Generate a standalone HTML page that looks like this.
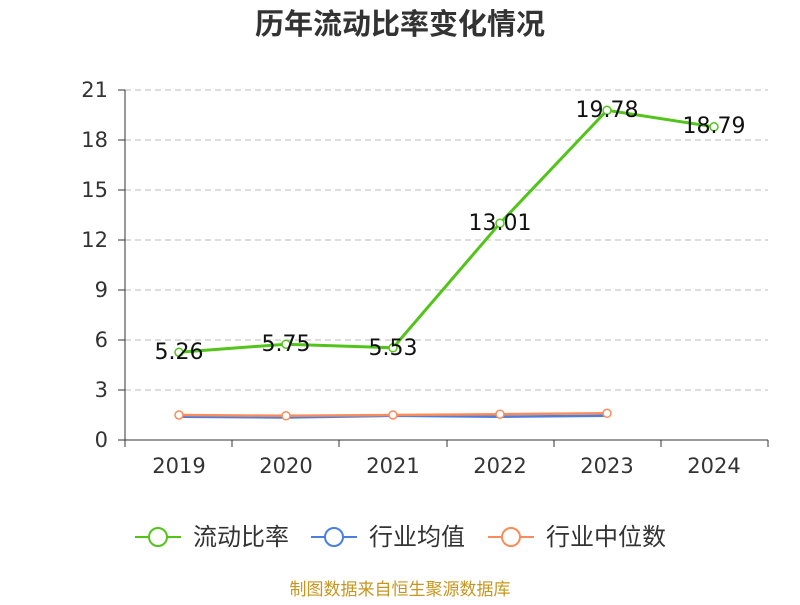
<!DOCTYPE html>
<html><head><meta charset="utf-8"><style>
body{margin:0;background:#fff;}
svg text{font-family:"DejaVu Sans","Noto Sans CJK SC",sans-serif;}
.cjk{font-family:"Liberation Sans","Noto Sans CJK SC",sans-serif;}
</style></head><body>
<svg width="800" height="600" xmlns="http://www.w3.org/2000/svg">
<text class="cjk" x="400" y="34" text-anchor="middle" font-size="29" font-weight="bold" fill="#333">历年流动比率变化情况</text>
<g stroke="#bbb" stroke-dasharray="6,4" stroke-width="1">
<line x1="125" y1="90" x2="768" y2="90"/><line x1="125" y1="140" x2="768" y2="140"/>
<line x1="125" y1="190" x2="768" y2="190"/><line x1="125" y1="240" x2="768" y2="240"/>
<line x1="125" y1="290" x2="768" y2="290"/><line x1="125" y1="340" x2="768" y2="340"/>
<line x1="125" y1="390" x2="768" y2="390"/>
</g>
<g stroke="#333" stroke-width="1">
<line x1="125" y1="90" x2="125" y2="440"/><line x1="125" y1="440" x2="768" y2="440"/>
<line x1="118" y1="90" x2="125" y2="90"/><line x1="118" y1="140" x2="125" y2="140"/><line x1="118" y1="190" x2="125" y2="190"/><line x1="118" y1="240" x2="125" y2="240"/><line x1="118" y1="290" x2="125" y2="290"/><line x1="118" y1="340" x2="125" y2="340"/><line x1="118" y1="390" x2="125" y2="390"/><line x1="118" y1="440" x2="125" y2="440"/>
<line x1="125" y1="440" x2="125" y2="447"/><line x1="232" y1="440" x2="232" y2="447"/><line x1="339" y1="440" x2="339" y2="447"/><line x1="447" y1="440" x2="447" y2="447"/><line x1="554" y1="440" x2="554" y2="447"/><line x1="661" y1="440" x2="661" y2="447"/><line x1="768" y1="440" x2="768" y2="447"/>
</g>
<g font-size="21" fill="#333" text-anchor="end">
<text x="108" y="97">21</text><text x="108" y="147">18</text><text x="108" y="197">15</text><text x="108" y="247">12</text><text x="108" y="297">9</text><text x="108" y="347">6</text><text x="108" y="397">3</text><text x="108" y="447">0</text>
</g>
<g font-size="21" fill="#333" text-anchor="middle">
<text x="179" y="473">2019</text><text x="286" y="473">2020</text><text x="393" y="473">2021</text><text x="500" y="473">2022</text><text x="607" y="473">2023</text><text x="714" y="473">2024</text>
</g>
<polyline fill="none" stroke="#4a7fe0" stroke-width="2.5" points="179,416.7 286,417.5 393,415.8 500,416.7 607,415.8"/>
<polyline fill="none" stroke="#f98c5a" stroke-width="2.5" points="179,415 286,415.8 393,415 500,414.2 607,413.3"/>
<g fill="#fff" stroke="#f98c5a" stroke-width="1.5">
<circle cx="179" cy="415" r="4"/><circle cx="286" cy="415.8" r="4"/><circle cx="393" cy="415" r="4"/><circle cx="500" cy="414.2" r="4"/><circle cx="607" cy="413.3" r="4"/>
</g>
<polyline fill="none" stroke="#52c41a" stroke-width="3" points="179,352.3 286,344.2 393,347.8 500,223.2 607,110.3 714,126.8"/>
<g fill="#fff" stroke="#52c41a" stroke-width="1.5">
<circle cx="179" cy="352.3" r="4"/><circle cx="286" cy="344.2" r="4"/><circle cx="393" cy="347.8" r="4"/><circle cx="500" cy="223.2" r="4"/><circle cx="607" cy="110.3" r="4"/><circle cx="714" cy="126.8" r="4"/>
</g>
<g font-size="22" fill="#111" text-anchor="middle">
<text x="179" y="359">5.26</text><text x="286" y="351">5.75</text><text x="393" y="355">5.53</text><text x="500" y="230">13.01</text><text x="607" y="117">19.78</text><text x="714" y="133">18.79</text>
</g>
<g stroke-width="2" fill="#fff">
<line x1="135" y1="537" x2="181" y2="537" stroke="#52c41a"/><circle cx="158" cy="537" r="9" stroke="#52c41a"/>
<line x1="311" y1="537" x2="357" y2="537" stroke="#4a7fe0"/><circle cx="334" cy="537" r="9" stroke="#4a7fe0"/>
<line x1="488" y1="537" x2="534" y2="537" stroke="#f98c5a"/><circle cx="511" cy="537" r="9" stroke="#f98c5a"/>
</g>
<g class="cjk" font-size="24" fill="#333">
<text class="cjk" x="193" y="545">流动比率</text><text class="cjk" x="369" y="545">行业均值</text><text class="cjk" x="546" y="545">行业中位数</text>
</g>
<text class="cjk" x="400" y="595" text-anchor="middle" font-size="17" fill="#c8961e">制图数据来自恒生聚源数据库</text>
</svg>
</body></html>
